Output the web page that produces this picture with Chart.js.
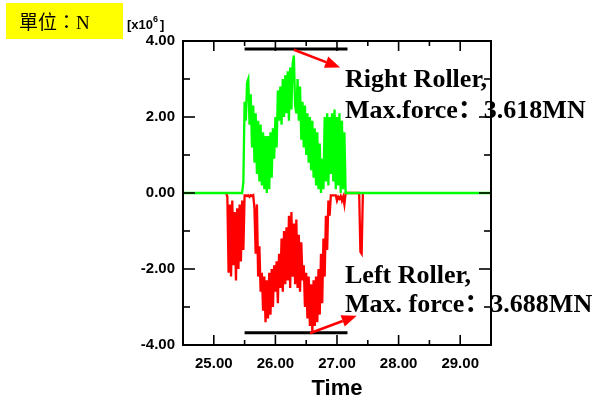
<!DOCTYPE html>
<html>
<head>
<meta charset="utf-8">
<script src="https://cdn.jsdelivr.net/npm/chart.js@4.4.0/dist/chart.umd.min.js"></script>
<style>
  html, body { margin: 0; padding: 0; background: #fff; }
  #wrap { position: relative; width: 596px; height: 397px; }
</style>
</head>
<body>
<div id="wrap"><canvas id="rollerChart" width="596" height="397"></canvas></div>
<script>
// Fuerza en rodillos [x10^6 N] vs tiempo
const rightRoller = [
    [24.5, 0], [25.46, 0], [25.48, 0.3], [25.50, 2.4], [25.52, 1.9], [25.54, 2.9], [25.56, 3.0],
    [25.58, 1.8], [25.60, 2.6], [25.62, 1.2], [25.64, 2.3], [25.66, 0.8], [25.68, 2.1], [25.70, 0.5],
    [25.72, 1.9], [25.74, 0.3], [25.76, 1.8], [25.78, 0.2], [25.80, 1.6], [25.82, 0.1], [25.84, 1.5],
    [25.86, 0.0], [25.88, 1.5], [25.90, 0.1], [25.92, 1.6], [25.94, 0.4], [25.96, 1.7], [25.98, 0.9],
    [26.00, 2.0], [26.02, 1.2], [26.04, 2.7], [26.06, 1.9], [26.08, 2.8], [26.10, 1.8], [26.12, 3.0],
    [26.14, 2.0], [26.16, 3.1], [26.18, 2.1], [26.20, 3.2], [26.22, 1.9], [26.24, 3.3], [26.26, 2.2],
    [26.28, 3.4], [26.30, 3.618], [26.32, 2.3], [26.34, 2.1], [26.36, 3.0], [26.38, 1.9], [26.40, 2.8],
    [26.42, 1.4], [26.44, 2.4], [26.46, 1.2], [26.48, 2.3], [26.50, 1.0], [26.52, 2.1], [26.54, 0.8],
    [26.56, 2.0], [26.58, 0.6], [26.60, 1.9], [26.62, 0.4], [26.64, 1.7], [26.66, 0.2], [26.68, 1.6],
    [26.70, 0.1], [26.72, 1.3], [26.74, 0.0], [26.76, 0.9], [26.78, 0.1], [26.80, 2.0], [26.82, 0.3],
    [26.84, 2.1], [26.86, 0.2], [26.88, 2.0], [26.90, 0.5], [26.92, 2.1], [26.94, 0.3], [26.96, 2.2],
    [26.98, 0.1], [27.00, 2.0], [27.02, 0.2], [27.04, 2.1], [27.06, 0.0], [27.08, 1.9], [27.10, 0.1],
    [27.12, 1.6], [27.14, 0], [29.5, 0]
];

const leftRoller = [
    [25.20, 0], [25.22, -0.1], [25.24, -2.1], [25.26, -0.3], [25.28, -2.2], [25.30, -0.2], [25.32, -1.9],
    [25.34, -0.5], [25.36, -2.3], [25.38, -0.4], [25.40, -2.0], [25.42, -0.3], [25.44, -1.8], [25.46, -0.2],
    [25.48, -1.5], [25.50, -0.06], [25.52, -0.06], [25.54, -0.08], [25.56, -0.06], [25.58, -0.1],
    [25.60, -0.06], [25.62, -0.08], [25.64, -0.06], [25.66, -0.4], [25.68, -1.6], [25.70, -0.3],
    [25.72, -2.2], [25.74, -1.4], [25.76, -2.6], [25.78, -2.1], [25.80, -3.1], [25.82, -2.2], [25.84, -3.4],
    [25.86, -2.3], [25.88, -3.3], [25.90, -2.1], [25.92, -3.2], [25.94, -2.0], [25.96, -3.0], [25.98, -1.9],
    [26.00, -2.6], [26.02, -1.8], [26.04, -2.9], [26.06, -1.6], [26.08, -2.5], [26.10, -1.2], [26.12, -2.6],
    [26.14, -1.0], [26.16, -2.4], [26.18, -0.9], [26.20, -2.3], [26.22, -0.6], [26.24, -2.5], [26.26, -0.5],
    [26.28, -2.2], [26.30, -0.8], [26.32, -2.4], [26.34, -0.7], [26.36, -2.5], [26.38, -1.1], [26.40, -2.6],
    [26.42, -1.3], [26.44, -2.3], [26.46, -1.9], [26.48, -3.0], [26.50, -2.1], [26.52, -3.3], [26.54, -2.2],
    [26.56, -3.5], [26.58, -2.4], [26.60, -3.688], [26.62, -2.3], [26.64, -3.5], [26.66, -2.2], [26.68, -3.4],
    [26.70, -2.0], [26.72, -3.2], [26.74, -1.6], [26.76, -2.9], [26.78, -1.2], [26.80, -2.2], [26.82, -0.6],
    [26.84, -1.5], [26.86, -0.2], [26.88, -0.6], [26.90, -0.06], [26.98, -0.06], [27.00, -0.2], [27.02, -0.1],
    [27.04, -0.15], [27.06, -0.08], [27.08, -0.2], [27.10, -0.1], [27.12, -0.3], [27.14, 0], [27.36, 0],
    [27.38, -1.55], [27.40, -1.6], [27.42, 0]
];

const xTicks = [25, 26, 27, 28, 29];
const yTicks = [-4, -2, 0, 2, 4];

// barras de maximo y flechas (en unidades de datos)
const barrasMax = [[25.50, 27.17, 3.79], [25.50, 27.17, -3.68]];
const flechas = [[26.30, 3.77, 27.05, 3.30], [26.56, -3.69, 27.32, -3.23]];

function linea(ctx, x1, y1, x2, y2) {
    ctx.beginPath();
    ctx.moveTo(x1, y1);
    ctx.lineTo(x2, y2);
    ctx.stroke();
}

const marcoPlugin = {
    id: 'marco',
    afterDraw(chart) {
        const ctx = chart.ctx;
        const a = chart.chartArea;
        const xs = chart.scales.x;
        const ys = chart.scales.y;
        ctx.save();

        // barras negras
        ctx.strokeStyle = '#000';
        ctx.lineWidth = 3;
        barrasMax.forEach(b => {
            linea(ctx, xs.getPixelForValue(b[0]), ys.getPixelForValue(b[2]),
                xs.getPixelForValue(b[1]), ys.getPixelForValue(b[2]));
        });

        // flechas rojas
        ctx.strokeStyle = '#ff0000';
        ctx.fillStyle = '#ff0000';
        ctx.lineWidth = 2.5;
        flechas.forEach(f => {
            const x1 = xs.getPixelForValue(f[0]), y1 = ys.getPixelForValue(f[1]);
            const x2 = xs.getPixelForValue(f[2]), y2 = ys.getPixelForValue(f[3]);
            const ang = Math.atan2(y2 - y1, x2 - x1);
            const L = 15, W = 6;
            const bx = x2 - L * Math.cos(ang), by = y2 - L * Math.sin(ang);
            linea(ctx, x1, y1, bx, by);
            ctx.beginPath();
            ctx.moveTo(x2, y2);
            ctx.lineTo(bx + W * Math.sin(ang), by - W * Math.cos(ang));
            ctx.lineTo(bx - W * Math.sin(ang), by + W * Math.cos(ang));
            ctx.closePath();
            ctx.fill();
        });

        // marco y ticks hacia adentro
        ctx.strokeStyle = '#000';
        ctx.lineWidth = 2;
        ctx.strokeRect(a.left, a.top, a.right - a.left, a.bottom - a.top);
        ctx.lineWidth = 1.6;
        xs.ticks.forEach(t => {
            const px = xs.getPixelForValue(t.value);
            const mayor = Math.abs(t.value - Math.round(t.value)) < 1e-6;
            const len = mayor ? 10 : 5;
            linea(ctx, px, a.bottom, px, a.bottom - len);
            linea(ctx, px, a.top, px, a.top + len);
        });
        ys.ticks.forEach(t => {
            const py = ys.getPixelForValue(t.value);
            const len = Math.abs(t.value % 2) < 1e-6 ? 12 : 7;
            linea(ctx, a.left, py, a.left + len, py);
            linea(ctx, a.right, py, a.right - len, py);
        });

        // caja amarilla de unidades
        ctx.fillStyle = '#ffff00';
        ctx.fillRect(6, 3, 117, 36);
        ctx.fillStyle = '#000';
        ctx.font = '19px "Liberation Serif", "Noto Sans CJK TC", serif';
        ctx.textBaseline = 'alphabetic';
        ctx.textAlign = 'left';
        ctx.fillText('單位：N', 19, 29);

        // [x10^6]
        ctx.font = 'bold 13px "Liberation Sans", Arial, sans-serif';
        ctx.fillText('[x10', 127, 29);
        let w = ctx.measureText('[x10').width;
        ctx.font = 'bold 9px "Liberation Sans", Arial, sans-serif';
        ctx.fillText('6', 127 + w, 22);
        let w2 = ctx.measureText('6').width;
        ctx.font = 'bold 13px "Liberation Sans", Arial, sans-serif';
        ctx.fillText(']', 127 + w + w2 + 2, 29);

        // anotaciones
        ctx.font = 'bold 26px "Liberation Serif", "Times New Roman", "Noto Sans CJK SC", serif';
        ctx.fillText('Right Roller,', 345, 87);
        ctx.fillText('Max.force：3.618MN', 345, 118);
        ctx.fillText('Left Roller,', 345, 283);
        ctx.fillText('Max. force：3.688MN', 345, 312);
        ctx.restore();
    }
};

document.addEventListener('DOMContentLoaded', function () {
    const ctx = document.getElementById('rollerChart').getContext('2d');

    new Chart(ctx, {
        type: 'line',
        data: {
            datasets: [{
                label: 'Right Roller',
                data: rightRoller.map(p => ({ x: p[0], y: p[1] })),
                borderColor: '#00ff00',
                borderWidth: 2.3,
                pointRadius: 0,
                tension: 0,
                fill: false
            }, {
                label: 'Left Roller',
                data: leftRoller.map(p => ({ x: p[0], y: p[1] })),
                borderColor: '#ff0000',
                borderWidth: 2.3,
                pointRadius: 0,
                tension: 0,
                fill: false
            }]
        },
        options: {
            responsive: false,
            animation: false,
            layout: { padding: { left: 0, right: 105, top: 41, bottom: 0 } },
            plugins: {
                legend: { display: false },
                tooltip: { enabled: false }
            },
            scales: {
                x: {
                    type: 'linear',
                    min: 24.5,
                    max: 29.5,
                    grid: { display: false, drawTicks: false },
                    border: { display: false },
                    afterFit: s => { s.height = 52; },
                    ticks: {
                        stepSize: 0.5,
                        autoSkip: false,
                        maxRotation: 0,
                        padding: 10,
                        color: '#000',
                        font: { family: '"Liberation Sans", Arial, sans-serif', size: 15, weight: 'bold' },
                        callback: v => xTicks.includes(v) ? v.toFixed(2) : ''
                    },
                    title: {
                        display: true,
                        text: 'Time',
                        color: '#000',
                        padding: { top: 0, bottom: -3 },
                        font: { family: '"Liberation Sans", Arial, sans-serif', size: 22, weight: 'bold', lineHeight: 1 }
                    }
                },
                y: {
                    min: -4,
                    max: 4,
                    grid: { display: false, drawTicks: false },
                    border: { display: false },
                    afterFit: s => { s.width = 183; },
                    ticks: {
                        stepSize: 1,
                        autoSkip: false,
                        padding: 8,
                        color: '#000',
                        font: { family: '"Liberation Sans", Arial, sans-serif', size: 15, weight: 'bold' },
                        callback: v => yTicks.includes(v) ? v.toFixed(2) : ''
                    }
                }
            }
        },
        plugins: [marcoPlugin]
    });
});
</script>
</body>
</html>
